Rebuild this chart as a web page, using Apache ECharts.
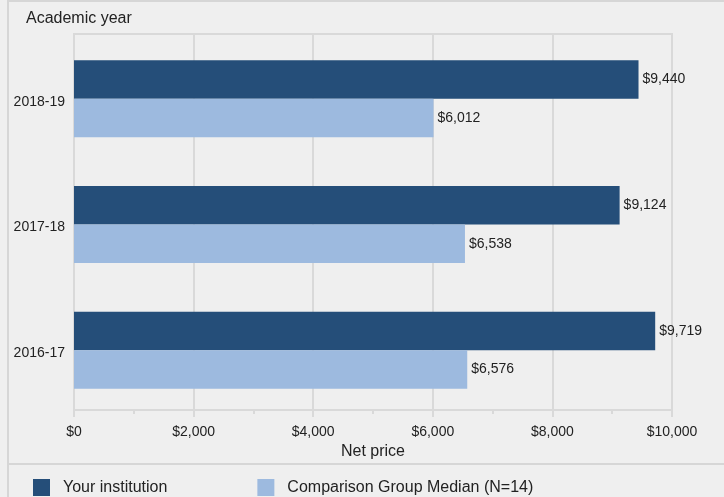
<!DOCTYPE html>
<html>
<head>
    <meta charset="utf-8">
    <title>Net price</title>
    <script src="https://cdn.jsdelivr.net/npm/echarts@6/dist/echarts.min.js"></script>
    <style>
        html, body { margin: 0; padding: 0; background: #efefef; }
    </style>
</head>
<body>
<div id="main" style="width: 724px;height:497px;"></div>
<script type="text/javascript">
    // data
    var years = ['2018-19', '2017-18', '2016-17'];
    var yourInstitution = [9440, 9124, 9719];
    var groupMedian = [6012, 6538, 6576];
    var seriesNames = ['Your institution', 'Comparison Group Median (N=14)'];

    var font = "'Liberation Sans', Arial, sans-serif";
    var lineColor = '#d9d9d9';
    var myChart = echarts.init(document.getElementById('main'));

    function money(v) {
        return '$' + v.toLocaleString('en-US');
    }

    var barLabel = {
        show: true,
        position: 'right',
        distance: 4,
        color: '#222',
        fontSize: 14,
        fontFamily: font,
        formatter: function (p) { return money(p.value); }
    };

    var option = {
        backgroundColor: '#efefef',
        animation: false,
        title: {
            text: 'Academic year',
            left: 21,
            top: 6,
            textStyle: { fontSize: 16, fontWeight: 'normal', color: '#222', fontFamily: font }
        },
        legend: {
            left: 28,
            top: 474,
            itemWidth: 17,
            itemHeight: 17,
            itemGap: 90,
            icon: 'rect',
            textStyle: { fontSize: 16, color: '#222', fontFamily: font, padding: [0, 0, 0, 8] },
            data: seriesNames
        },
        // grid 0 draws the frame and value axis, grid 1 (a touch lower) holds the bars
        grid: [
            { left: 74, right: 52, top: 34, bottom: 87, show: true, borderColor: lineColor, borderWidth: 2 },
            { left: 74, right: 52, top: 36, bottom: 84 }
        ],
        xAxis: [
            {
                gridIndex: 0,
                type: 'value',
                min: 0,
                max: 10000,
                interval: 2000,
                name: 'Net price',
                nameLocation: 'middle',
                nameGap: 34,
                nameTextStyle: { fontSize: 16, color: '#222', fontFamily: font },
                axisLine: { show: false },
                axisTick: { show: true, length: 7, lineStyle: { color: lineColor, width: 2 } },
                minorTick: { show: true, splitNumber: 2, length: 4, lineStyle: { color: lineColor, width: 2 } },
                splitLine: { show: true, lineStyle: { color: lineColor, width: 2 } },
                axisLabel: {
                    margin: 15,
                    fontSize: 14,
                    color: '#222',
                    fontFamily: font,
                    formatter: function (v) { return money(v); }
                }
            },
            {
                gridIndex: 1,
                type: 'value',
                min: 0,
                max: 10000,
                show: false
            }
        ],
        yAxis: [
            {
                gridIndex: 0,
                type: 'category',
                data: years,
                inverse: true,
                axisLine: { show: true, lineStyle: { color: lineColor, width: 2 } },
                axisTick: { show: false },
                axisLabel: { show: false }
            },
            {
                gridIndex: 1,
                type: 'category',
                data: years,
                inverse: true,
                axisLine: { show: false },
                axisTick: { show: false },
                axisLabel: {
                    margin: 9,
                    formatter: function (v) { return '{y|' + v + '}'; },
                    rich: {
                        y: { fontSize: 14, color: '#222', fontFamily: font, padding: [6, 0, 0, 0] }
                    }
                }
            }
        ],
        series: [
            {
                name: seriesNames[0],
                type: 'bar',
                xAxisIndex: 1,
                yAxisIndex: 1,
                data: yourInstitution,
                barWidth: 38.5,
                barGap: '0%',
                itemStyle: { color: '#254e79' },
                label: barLabel
            },
            {
                name: seriesNames[1],
                type: 'bar',
                xAxisIndex: 1,
                yAxisIndex: 1,
                data: groupMedian,
                barWidth: 38.5,
                barGap: '0%',
                itemStyle: { color: '#9dbadf' },
                label: barLabel
            }
        ],
        graphic: [
            { type: 'line', shape: { x1: 8, y1: 0, x2: 8, y2: 497 }, style: { stroke: '#d6d6d6', lineWidth: 2 } },
            { type: 'line', shape: { x1: 8, y1: 1, x2: 724, y2: 1 }, style: { stroke: '#d6d6d6', lineWidth: 2 } },
            { type: 'line', shape: { x1: 8, y1: 464, x2: 724, y2: 464 }, style: { stroke: '#d6d6d6', lineWidth: 2 } }
        ]
    };

    myChart.setOption(option);
</script>
</body>
</html>
